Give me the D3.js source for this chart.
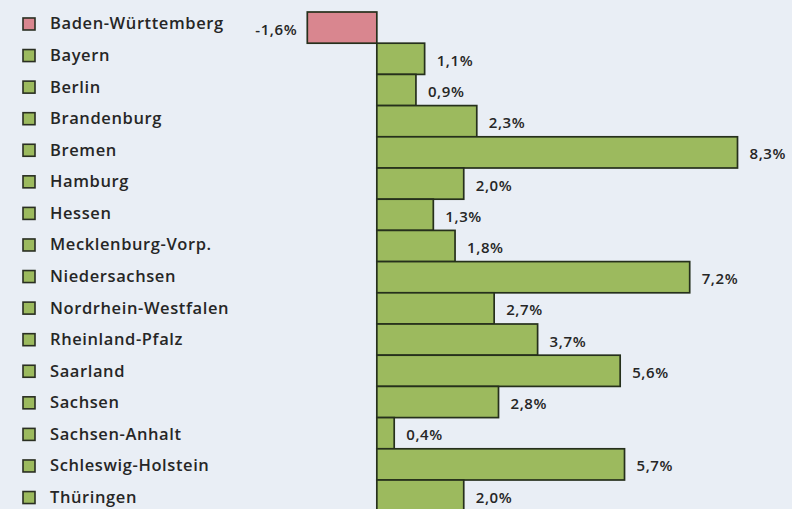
<!DOCTYPE html>
<html>
<head>
<meta charset="utf-8">
<script src="https://cdn.jsdelivr.net/npm/d3@7"></script>
<style>
  body { margin: 0; background: #e9eef5; }
  svg { display: block; font-family: "Open Sans", sans-serif; }
</style>
</head>
<body>
<div id="root"></div>
<script>
const states = ["Baden-Württemberg", "Bayern", "Berlin", "Brandenburg", "Bremen", "Hamburg", "Hessen",
  "Mecklenburg-Vorp.", "Niedersachsen", "Nordrhein-Westfalen", "Rheinland-Pfalz", "Saarland",
  "Sachsen", "Sachsen-Anhalt", "Schleswig-Holstein", "Thüringen"];
const change = [-1.6, 1.1, 0.9, 2.3, 8.3, 2.0, 1.3, 1.8, 7.2, 2.7, 3.7, 5.6, 2.8, 0.4, 5.7, 2.0];

const width = 792, height = 509;
const rows = states.map((s, i) => ({ name: s, value: change[i] }));

const svg = d3.select('#root').append('svg')
  .attr('width', width).attr('height', height);

svg.append('rect').attr('width', width).attr('height', height).attr('fill', '#e9eef5');

const x = d3.scaleLinear().domain([-1.6, 8.3]).range([307.3, 737.5]);
// bars and legend rows have slightly different pitch in the original
const y = d3.scaleBand().domain(states).range([12, 12 + 31.2 * 16]).padding(0);
const yLeg = d3.scaleBand().domain(states).range([7.7, 7.7 + 31.57 * 16]).padding(0);

const fmt = v => d3.format('.1f')(v).replace('.', ',').replace('−', '-') + '%';
const fill = v => v < 0 ? '#d9868f' : '#9cba5e';

const row = svg.selectAll('g.row').data(rows).join('g').attr('class', 'row');

// legend squares + names
row.append('rect')
  .attr('x', 23).attr('y', d => yLeg(d.name) + yLeg.bandwidth() / 2 - 5.5)
  .attr('width', 12).attr('height', 12)
  .attr('fill', d => fill(d.value))
  .attr('stroke', '#2a2f22').attr('stroke-width', 1.6);

row.append('text')
  .attr('x', 50).attr('y', d => yLeg(d.name) + yLeg.bandwidth() / 2)
  .attr('dy', '0.36em')
  .attr('font-size', 16.5).attr('font-weight', 600)
  .attr('letter-spacing', 0.6)
  .attr('fill', '#262626')
  .text(d => d.name);

// bars
row.append('rect')
  .attr('x', d => x(Math.min(0, d.value)))
  .attr('y', d => y(d.name))
  .attr('width', d => Math.abs(x(d.value) - x(0)))
  .attr('height', y.bandwidth())
  .attr('fill', d => fill(d.value))
  .attr('stroke', '#26301c').attr('stroke-width', 1.7);

// value labels
row.append('text')
  .attr('x', d => d.value < 0 ? x(d.value) - 10 : x(d.value) + 12)
  .attr('y', d => y(d.name) + y.bandwidth() / 2 + 1.5)
  .attr('dy', '0.36em')
  .attr('text-anchor', d => d.value < 0 ? 'end' : 'start')
  .attr('font-size', 15).attr('font-weight', 600)
  .attr('letter-spacing', 0.6)
  .attr('fill', '#262626')
  .text(d => fmt(d.value));
</script>
</body>
</html>
